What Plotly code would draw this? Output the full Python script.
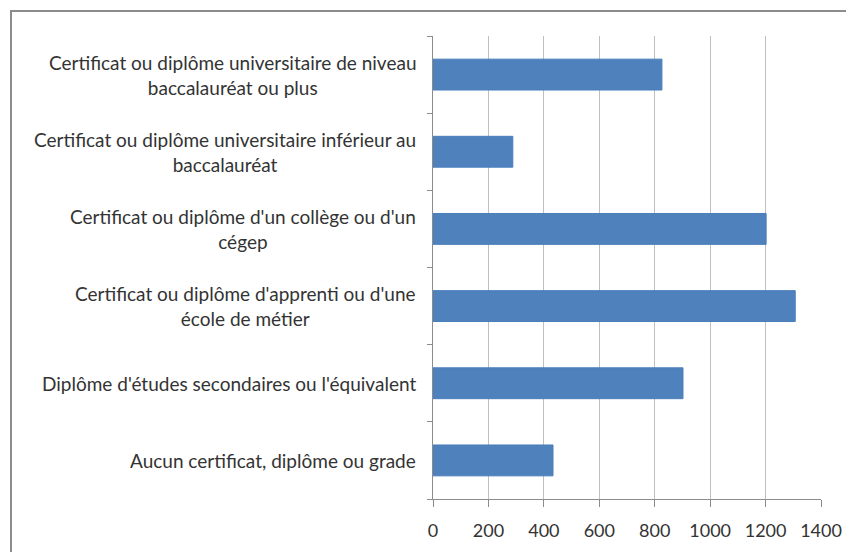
import plotly.graph_objects as go

categories = [
    "Aucun certificat, diplôme ou grade",
    "Diplôme d'études secondaires ou l'équivalent",
    "Certificat ou diplôme d'apprenti ou d'une<br>école de métier",
    "Certificat ou diplôme d'un collège ou d'un<br>cégep",
    "Certificat ou diplôme universitaire inférieur au<br>baccalauréat",
    "Certificat ou diplôme universitaire de niveau<br>baccalauréat ou plus",
]
values = [433, 902, 1307, 1202, 288, 826]
x_ticks = [0, 200, 400, 600, 800, 1000, 1200, 1400]

FONT = "Lato"
TEXT = "#333333"

fig = go.Figure(
    go.Bar(
        y=categories,
        x=values,
        orientation="h",
        width=0.4,
        marker=dict(color="#4F81BD", line=dict(color="#4A7EBB", width=1)),
    )
)

for c in categories:
    fig.add_annotation(
        x=0, xref="paper", xshift=-15,
        y=c, yref="y",
        text=c, showarrow=False,
        xanchor="right", yanchor="middle", align="center",
        font=dict(family=FONT, size=19, color=TEXT),
    )

fig.add_shape(
    type="rect", xref="paper", yref="paper",
    x0=-1.0876, x1=2.0, y0=-0.5, y1=1.054,
    line=dict(color="#8c8c8c", width=2), fillcolor="rgba(0,0,0,0)", layer="above",
)

fig.update_layout(
    width=846, height=544,
    margin=dict(l=425, r=33, t=28, b=53),
    paper_bgcolor="white", plot_bgcolor="white",
    showlegend=False,
    font=dict(family=FONT, size=18, color=TEXT),
    xaxis=dict(
        range=[0, 1400], tickvals=x_ticks, ticktext=[str(v) for v in x_ticks],
        showgrid=True, gridcolor="#bfbfbf", gridwidth=1,
        showline=True, linecolor="#8c8c8c", linewidth=1,
        ticks="outside", ticklen=7, tickcolor="#8c8c8c",
        ticklabelstandoff=8,
        tickfont=dict(family=FONT, size=18, color=TEXT),
        zeroline=False, fixedrange=True,
    ),
    yaxis=dict(
        categoryorder="array", categoryarray=categories,
        showticklabels=False, tickson="boundaries",
        ticks="outside", ticklen=5, tickcolor="#8c8c8c",
        showline=True, linecolor="#8c8c8c", linewidth=1,
        showgrid=False, range=[-0.5, 5.5],
    ),
)

fig.write_html("out.html")
